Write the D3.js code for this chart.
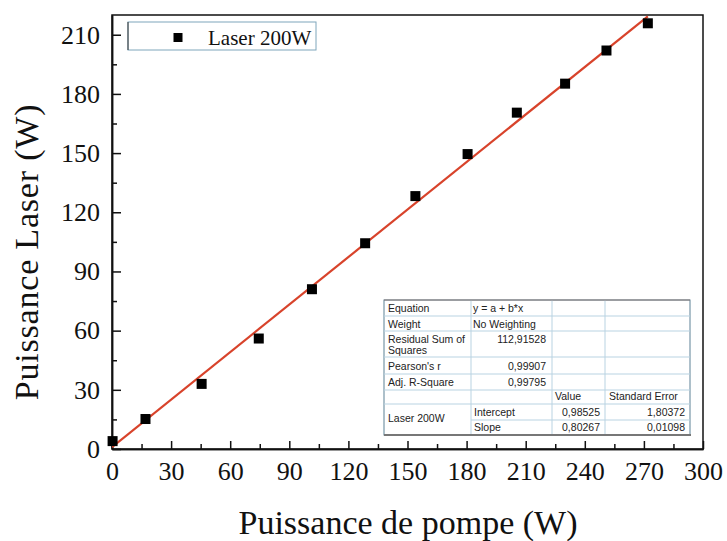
<!DOCTYPE html>
<html>
<head>
<meta charset="utf-8">
<script src="https://cdn.jsdelivr.net/npm/d3@7"></script>
<style>
  html, body { margin: 0; padding: 0; background: #fff; }
  svg { display: block; }
</style>
</head>
<body>
<svg id="chart" width="727" height="541"></svg>
<script>
// ---- data ----
const pumpPower  = [0.3, 17, 45.5, 74.5, 101.5, 128.5, 154, 180.5, 205.5, 230, 251, 272];
const laserPower = [4, 15.2, 33, 56, 81, 104.3, 128.2, 149.5, 170.5, 185.2, 202, 215.8];
const fitIntercept = 0.98525;
const fitSlope = 0.80267;
const xTicks = [0, 30, 60, 90, 120, 150, 180, 210, 240, 270, 300];
const yTicks = [0, 30, 60, 90, 120, 150, 180, 210];
const xMinorTicks = [15, 45, 75, 105, 135, 165, 195, 225, 255, 285];
const yMinorTicks = [15, 45, 75, 105, 135, 165, 195];
const seriesName = "Laser 200W";
const xTitle = "Puissance de pompe (W)";
const yTitle = "Puissance Laser (W)";
// fit report table
const statLabels = ["Equation", "Weight", "Residual Sum of|Squares", "Pearson's r", "Adj. R-Square"];
const statValues = ["y = a + b*x", "No Weighting", "112,91528", "0,99907", "0,99795"];
const paramHeaders = ["Value", "Standard Error"];
const paramNames = ["Intercept", "Slope"];
const paramValues = ["0,98525", "0,80267"];
const paramErrors = ["1,80372", "0,01098"];

// ---- layout ----
const svg = d3.select("#chart");
const L = 112, R = 703, T = 15, B = 449;
const x = d3.scaleLinear().domain([0, 300]).range([L, R]);
const y = d3.scaleLinear().domain([0, 220]).range([B, T]);
const serif = "'Liberation Serif', 'Times New Roman', serif";
const sans = "'Liberation Sans', Arial, sans-serif";

svg.append("defs").append("clipPath").attr("id", "plotclip")
  .append("rect").attr("x", L).attr("y", T).attr("width", R - L).attr("height", B - T);

// frame
svg.append("rect").attr("x", L).attr("y", T).attr("width", R - L).attr("height", B - T)
  .attr("fill", "none").attr("stroke", "#111").attr("stroke-width", 1.5);

// axes (inward ticks)
const xAxis = svg.append("g").attr("transform", `translate(0,${B})`)
  .call(d3.axisBottom(x).tickValues(xTicks).tickSize(-8).tickSizeOuter(0).tickPadding(13).tickFormat(d3.format("d")));
const xMinor = svg.append("g").attr("transform", `translate(0,${B})`)
  .call(d3.axisBottom(x).tickValues(xMinorTicks).tickSize(-5).tickSizeOuter(0).tickFormat(""));
const yAxis = svg.append("g").attr("transform", `translate(${L},0)`)
  .call(d3.axisLeft(y).tickValues(yTicks).tickSize(-9).tickSizeOuter(0).tickPadding(12).tickFormat(d3.format("d")));
const yMinor = svg.append("g").attr("transform", `translate(${L},0)`)
  .call(d3.axisLeft(y).tickValues(yMinorTicks).tickSize(-5).tickSizeOuter(0).tickFormat(""));
[xAxis, xMinor, yAxis, yMinor].forEach(g => {
  g.select(".domain").attr("stroke", "#111").attr("stroke-width", 1.5);
  g.selectAll(".tick line").attr("stroke", "#111").attr("stroke-width", 1.5);
  g.selectAll(".tick text").attr("font-family", serif).attr("font-size", 26).attr("fill", "#111");
});

// fit line
const xs = [0, d3.max(pumpPower)];
svg.append("line").attr("clip-path", "url(#plotclip)")
  .attr("x1", x(xs[0])).attr("y1", y(fitIntercept + fitSlope * xs[0]))
  .attr("x2", x(xs[1])).attr("y2", y(fitIntercept + fitSlope * xs[1]))
  .attr("stroke", "#d8432b").attr("stroke-width", 2.2);

// points
const sq = 10;
svg.append("g").selectAll("rect").data(pumpPower.map((p, i) => [p, laserPower[i]])).join("rect")
  .attr("x", d => x(d[0]) - sq / 2).attr("y", d => y(d[1]) - sq / 2)
  .attr("width", sq).attr("height", sq).attr("fill", "#000");

// axis titles
svg.append("text").attr("x", 408).attr("y", 534).attr("text-anchor", "middle")
  .attr("font-family", serif).attr("font-size", 34).attr("fill", "#111").text(xTitle);
svg.append("text").attr("transform", "translate(38,252) rotate(-90)").attr("text-anchor", "middle")
  .attr("font-family", serif).attr("font-size", 34).attr("letter-spacing", 0.8).attr("fill", "#111").text(yTitle);

// legend
const lg = svg.append("g");
lg.append("rect").attr("x", 128).attr("y", 22).attr("width", 188).attr("height", 28)
  .attr("fill", "#fff").attr("stroke", "#7fa6bb").attr("stroke-width", 1);
lg.append("line").attr("x1", 128).attr("y1", 22).attr("x2", 128).attr("y2", 50)
  .attr("stroke", "#333").attr("stroke-width", 1);
lg.append("rect").attr("x", 178 - 4.5).attr("y", 37.5 - 4.5).attr("width", 9).attr("height", 9).attr("fill", "#000");
lg.append("text").attr("x", 208).attr("y", 45).attr("font-family", serif).attr("font-size", 21)
  .attr("fill", "#111").text(seriesName);

// fit report table
const tb = svg.append("g");
const tL = 384, tR = 690, tT = 300, tB = 435;
const c1 = 471, c2 = 552, c3 = 605;
const rowLines = [316, 331, 357, 374, 390, 404];
tb.append("rect").attr("x", tL).attr("y", tT).attr("width", tR - tL).attr("height", tB - tT)
  .attr("fill", "#fff").attr("stroke", "#5d8196").attr("stroke-width", 1);
const grid = "#b9d3e2";
rowLines.forEach(yy => tb.append("line").attr("x1", tL).attr("x2", tR).attr("y1", yy).attr("y2", yy)
  .attr("stroke", grid).attr("stroke-width", 1));
tb.append("line").attr("x1", c1).attr("x2", tR).attr("y1", 420).attr("y2", 420).attr("stroke", grid);
[c1, c2, c3].forEach(xx => tb.append("line").attr("x1", xx).attr("x2", xx).attr("y1", tT).attr("y2", tB)
  .attr("stroke", grid).attr("stroke-width", 1));
tb.append("line").attr("x1", tL).attr("x2", tR).attr("y1", tT).attr("y2", tT).attr("stroke", "#8a7a78").attr("stroke-width", 1.2);
tb.append("line").attr("x1", tL).attr("x2", tR + 1).attr("y1", tB).attr("y2", tB).attr("stroke", "#777").attr("stroke-width", 2);

function tt(xx, yy, s, anchor) {
  tb.append("text").attr("x", xx).attr("y", yy).attr("text-anchor", anchor || "start")
    .attr("font-family", sans).attr("font-size", 10.5).attr("fill", "#222").text(s);
}
const rowMid = [308, 323.5, 344, 366, 382];
statLabels.forEach((s, i) => {
  const parts = s.split("|");
  if (parts.length === 2) { tt(388, rowMid[i] - 1, parts[0]); tt(388, rowMid[i] + 10, parts[1]); }
  else tt(388, rowMid[i] + 4, s);
});
statValues.forEach((s, i) => {
  if (i < 2) tt(473, rowMid[i] + 4, s);
  else tt(546, (i === 2 ? rowMid[i] - 1 : rowMid[i] + 4), s, "end");
});
tt(555, 400, paramHeaders[0]);
tt(609, 400, paramHeaders[1]);
tt(388, 422, seriesName);
paramNames.forEach((s, i) => {
  const yy = i === 0 ? 416 : 431;
  tt(474, yy, s);
  tt(600, yy, paramValues[i], "end");
  tt(685, yy, paramErrors[i], "end");
});
</script>
</body>
</html>
